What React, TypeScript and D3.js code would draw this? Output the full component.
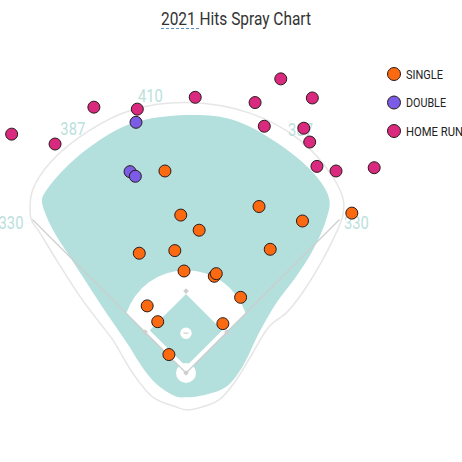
import React, { useEffect, useRef } from 'react';
import * as d3 from 'd3';

// hit locations in feet from home plate (x: toward first base side, y: toward center field)
const singles: [number, number][] = [
  [-32, 307], [111, 253], [252, 243], [-8, 240], [177, 231], [20, 217],
  [-71, 182], [-17, 186], [128, 188], [-3, 155], [43, 147], [46, 151],
  [83, 115], [-59, 102], [-43, 78], [56, 75], [-26, 28]
];
const doubles: [number, number][] = [[-76, 381], [-85, 306], [-77, 299]];
const homeRuns: [number, number][] = [
  [-265, 363], [-199, 348], [-140, 404], [-74, 401], [14, 419], [105, 411],
  [144, 447], [192, 418], [119, 375], [179, 372], [188, 351], [199, 314],
  [228, 307], [286, 312]
];

const hitTypes = ['SINGLE', 'DOUBLE', 'HOME RUN'];
const hitColors = ['#fb6a10', '#7a5ce6', '#d92a7f'];

// wall distance labels
const wallLabels = ['330', '387', '410', '387', '330'];
const wallLabelPos: [number, number][] = [[-266, 219], [-172, 362], [-54, 412], [174, 360], [259, 219]];

// outline of the park and the outfield grass (feet)
const parkOutline: [number, number][] = [
  [0, -56], [-14, -52], [-50, -37], [-81, 0], [-111, 50], [-131, 76], [-161, 116],
  [-197, 172], [-222, 213], [-235, 233], [-237, 253], [-233, 278], [-207, 319],
  [-146, 369], [-81, 400], [0, 411], [97, 395], [173, 354], [223, 298], [239, 263],
  [238, 238], [223, 202], [202, 162], [177, 122], [152, 91], [132, 76], [122, 65],
  [101, 30], [76, -11], [50, -41], [20, -53]
];
const grassOutline: [number, number][] = [
  [0, -37], [-14, -36], [-40, -21], [-60, 0], [-90, 46], [-121, 91], [-151, 137],
  [-176, 176], [-202, 217], [-214, 243], [-219, 263], [-212, 278], [-181, 314],
  [-131, 354], [-81, 380], [0, 392], [71, 385], [147, 344], [199, 298], [218, 263],
  [213, 233], [193, 187], [167, 146], [137, 106], [111, 61], [86, 10], [61, -21], [30, -33]
];

const App = () => {
  const svgRef = useRef<SVGSVGElement | null>(null);
  const width = 462;
  const height = 462;

  useEffect(() => {
    document.body.style.margin = '0';
    document.body.style.overflow = 'hidden';

    const svg = d3.select(svgRef.current);
    svg.selectAll('*').remove();

    const ft = 0.658; // px per foot
    const x = d3.scaleLinear().domain([0, 100]).range([186, 186 + 100 * ft]);
    const y = d3.scaleLinear().domain([0, 100]).range([373, 373 - 100 * ft]);

    const closed = d3
      .line<[number, number]>()
      .x((d) => x(d[0]))
      .y((d) => y(d[1]))
      .curve(d3.curveCatmullRomClosed.alpha(0.5));

    const teal = '#b3dfdd';

    // park + warning track
    svg.append('path').attr('d', closed(parkOutline)).attr('fill', '#fff').attr('stroke', '#e6e6e6').attr('stroke-width', 1.5);
    // outfield grass
    svg.append('path').attr('d', closed(grassOutline)).attr('fill', teal);

    // infield dirt: circle around the mound cut by the foul lines
    const moundY = 60.5;
    const dirtR = 95.7;
    const t = (moundY + Math.sqrt(moundY * moundY + 2 * (dirtR * dirtR - moundY * moundY))) / 2;
    const cx = x(0);
    const cy = y(moundY);
    const a0 = Math.atan2(y(t) - cy, x(-t) - cx);
    const a1 = Math.atan2(y(t) - cy, x(t) - cx);
    const dirt = d3.path();
    dirt.moveTo(x(0), y(0));
    dirt.lineTo(x(-t), y(t));
    dirt.arc(cx, cy, dirtR * ft, a0, a1, false);
    dirt.closePath();
    svg.append('path').attr('d', dirt.toString()).attr('fill', '#fff');

    // infield grass
    const diamond: [number, number][] = [[0, 12], [53, 65], [0, 118], [-53, 65]];
    svg
      .append('path')
      .attr('d', d3.line<[number, number]>().x((d) => x(d[0])).y((d) => y(d[1]))(diamond) + 'Z')
      .attr('fill', teal)
      .attr('stroke', teal)
      .attr('stroke-width', 2)
      .attr('stroke-linejoin', 'round');

    // home plate circle & mound
    svg.append('circle').attr('cx', x(0)).attr('cy', y(0)).attr('r', 10).attr('fill', '#fff');
    svg.append('circle').attr('cx', cx).attr('cy', cy).attr('r', 5.7).attr('fill', '#fff');
    svg.append('line').attr('x1', cx - 2.5).attr('x2', cx + 2.5).attr('y1', cy).attr('y2', cy).attr('stroke', '#cfcfcf').attr('stroke-width', 1.2);

    // foul lines
    const pole = 330 / Math.SQRT2;
    [-1, 1].forEach((s) => {
      svg
        .append('line')
        .attr('x1', x(0)).attr('y1', y(0))
        .attr('x2', x(s * pole)).attr('y2', y(pole))
        .attr('stroke', '#cdcdcd')
        .attr('stroke-width', 1.2);
    });

    // bases
    const b = 88 / Math.SQRT2;
    const bases: [number, number][] = [[0, 0], [b, b], [0, 2 * b], [-b, b]];
    svg
      .selectAll('rect.base')
      .data(bases)
      .enter()
      .append('rect')
      .attr('class', 'base')
      .attr('x', -2).attr('y', -2).attr('width', 4).attr('height', 4)
      .attr('transform', (d) => `translate(${x(d[0])},${y(d[1])}) rotate(45)`)
      .attr('fill', '#cfcfcf');

    // wall distance labels
    svg
      .selectAll('text.dist')
      .data(wallLabels)
      .enter()
      .append('text')
      .attr('class', 'dist')
      .attr('x', (d, i) => x(wallLabelPos[i][0]))
      .attr('y', (d, i) => y(wallLabelPos[i][1]))
      .attr('text-anchor', 'middle')
      .attr('textLength', 25)
      .attr('lengthAdjust', 'spacingAndGlyphs')
      .style('font-family', 'Roboto, sans-serif')
      .style('font-size', '18px')
      .style('fill', '#bcdfdd')
      .text((d) => d);

    // hits
    const groups = [singles, doubles, homeRuns];
    groups.forEach((pts, gi) => {
      svg
        .append('g')
        .selectAll('circle')
        .data(pts)
        .enter()
        .append('circle')
        .attr('cx', (d) => x(d[0]))
        .attr('cy', (d) => y(d[1]))
        .attr('r', 6)
        .attr('fill', hitColors[gi])
        .attr('stroke', '#2a1a1a')
        .attr('stroke-width', 1);
    });

    // legend
    const legend = svg
      .append('g')
      .selectAll('g')
      .data(hitTypes)
      .enter()
      .append('g')
      .attr('transform', (d, i) => `translate(394, ${74 + i * 28.5})`);
    legend
      .append('circle')
      .attr('r', 6.5)
      .attr('fill', (d, i) => hitColors[i])
      .attr('stroke', '#2a1a1a')
      .attr('stroke-width', 1);
    const legendLen = [37, 40, 57];
    legend
      .append('text')
      .attr('x', 12)
      .attr('dy', '0.36em')
      .attr('textLength', (d, i) => legendLen[i])
      .attr('lengthAdjust', 'spacingAndGlyphs')
      .style('font-family', 'Roboto, sans-serif')
      .style('font-size', '12.5px')
      .style('fill', '#222')
      .text((d) => d);

    // title
    svg
      .append('text')
      .attr('x', 161)
      .attr('y', 25)
      .attr('textLength', 150)
      .attr('lengthAdjust', 'spacingAndGlyphs')
      .style('font-family', 'Roboto, sans-serif')
      .style('font-size', '18px')
      .style('fill', '#333')
      .text('2021 Hits Spray Chart');
    svg
      .append('line')
      .attr('x1', 161).attr('x2', 200)
      .attr('y1', 28.5).attr('y2', 28.5)
      .attr('stroke', '#5a8fc4')
      .attr('stroke-width', 1)
      .attr('stroke-dasharray', '3,2');
  }, []);

  return (
    <svg
      ref={svgRef}
      width={width}
      height={height}
      style={{ position: 'absolute', left: 0, top: 0, background: '#fff' }}
    ></svg>
  );
};

export default App;
